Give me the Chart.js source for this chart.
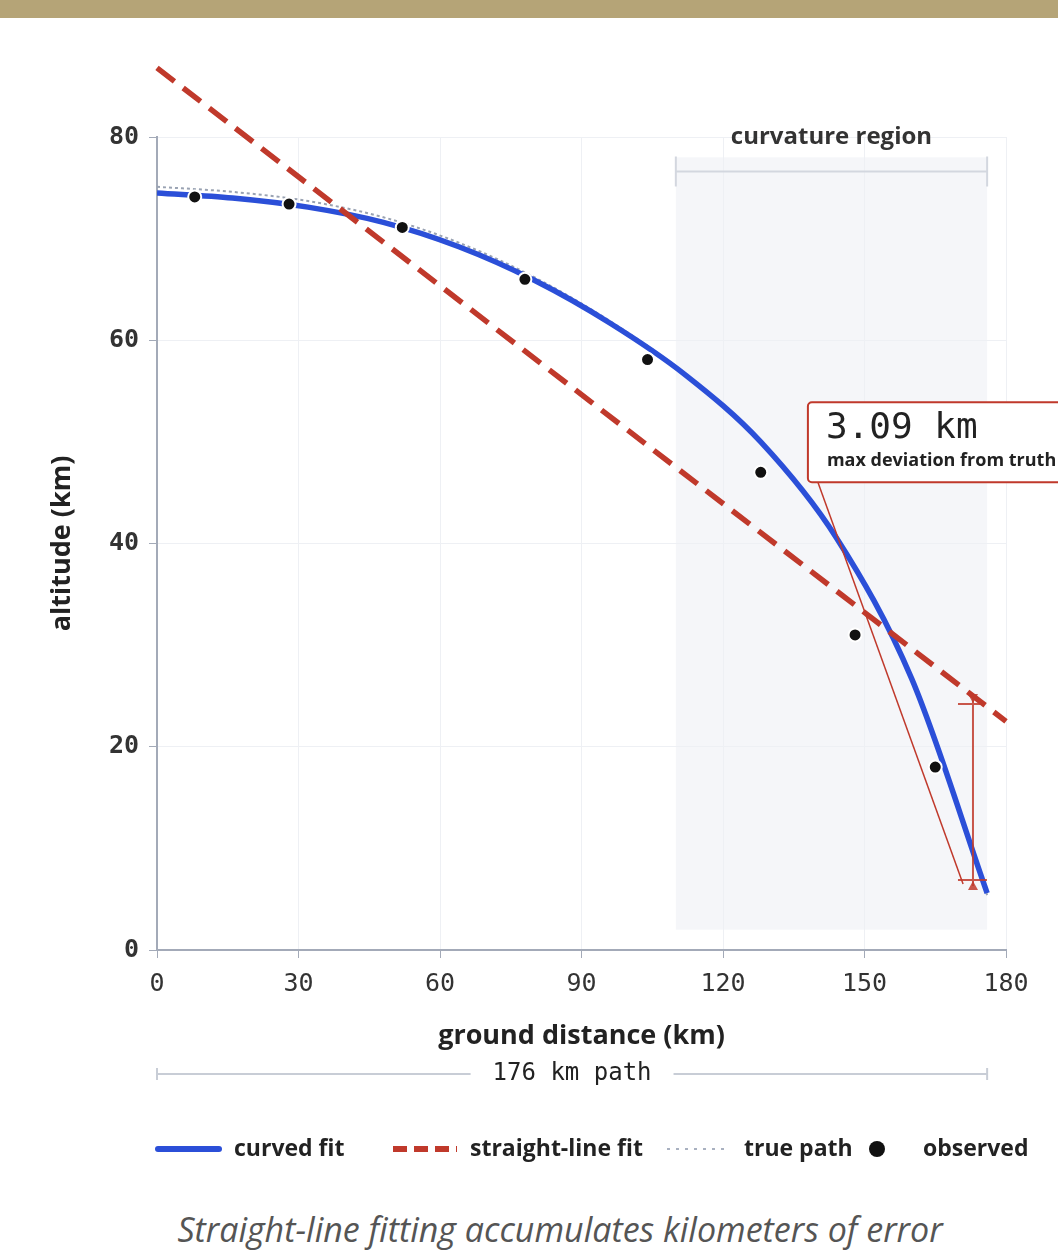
<!DOCTYPE html>
<html>
<head>
<meta charset="utf-8">
<script src="https://cdn.jsdelivr.net/npm/chart.js@4.4.1/dist/chart.umd.min.js"></script>
<style>
  body { margin: 0; background: #fff; width: 1058px; height: 1251px; position: relative; overflow: hidden; }
  #band { position: absolute; left: 0; top: 0; width: 1058px; height: 18px; background: #b5a477; z-index: 2; }
  #wrap { position: absolute; left: 0; top: 0; width: 1058px; height: 1200px; }
  #caption { position: absolute; top: 1205px; left: 0; width: 1120px; text-align: center; line-height: 48px;
    font-family: "Open Sans", sans-serif; font-style: italic; font-size: 34px; color: #555; }
</style>
</head>
<body>
<div id="band"></div>
<div id="wrap"><canvas id="grafico" width="1058" height="1200"></canvas></div>
<div id="caption">Straight-line fitting accumulates kilometers of error</div>
<script>
// valores
const curveX = [0, 16, 32, 48, 64, 80, 96, 112, 128, 144, 160, 176];
const curveY = [74.5, 74.0, 73.1, 71.6, 69.2, 65.9, 61.7, 56.6, 50.0, 40.6, 26.7, 5.6];
const truthY = [75.1, 74.6, 73.7, 72.1, 69.6, 66.2, 61.9, 56.7, 50.0, 40.6, 26.6, 5.4];
const fitX = [0, 180];
const fitY = [86.8, 22.5];
const obsX = [8, 28, 52, 78, 104, 128, 148, 165];
const obsY = [74.1, 73.4, 71.1, 66.0, 58.1, 47.0, 31.0, 18.0];
const xTicks = [0, 30, 60, 90, 120, 150, 180];
const yTicks = [0, 20, 40, 60, 80];

const regionX = [110, 176];
const regionY = [2, 78];
const errX = 173;
const errY = [24.2, 6.9];
const pathLen = 176;
const maxDev = "3.09 km";

const pares = (xs, ys) => xs.map((x, i) => ({ x, y: ys[i] }));

const SANS = '"Open Sans", "Noto Sans", sans-serif';
const MONO = '"DejaVu Sans Mono", monospace';
const RED = '#c0392b';
const BLUE = '#2b4fd8';
const AXIS = '#a3aab8';

const overlay = {
    id: 'overlay',
    beforeDraw(chart) {
        const { ctx, scales: { x, y } } = chart;
        ctx.save();
        ctx.fillStyle = '#f5f6f9';
        ctx.fillRect(x.getPixelForValue(regionX[0]), y.getPixelForValue(regionY[1]),
            x.getPixelForValue(regionX[1]) - x.getPixelForValue(regionX[0]),
            y.getPixelForValue(regionY[0]) - y.getPixelForValue(regionY[1]));
        ctx.restore();
    },
    afterDatasetsDraw(chart) {
        const { ctx, scales: { x, y } } = chart;
        ctx.save();
        // barra de erro
        const ex = x.getPixelForValue(errX);
        const e1 = y.getPixelForValue(errY[0]);
        const e2 = y.getPixelForValue(errY[1]);
        ctx.strokeStyle = 'rgba(192,57,43,0.85)';
        ctx.fillStyle = 'rgba(192,57,43,0.85)';
        ctx.lineWidth = 2;
        ctx.beginPath();
        ctx.moveTo(ex, e1 - 8); ctx.lineTo(ex, e2 + 6);
        ctx.moveTo(ex - 15, e1); ctx.lineTo(ex + 8, e1);
        ctx.moveTo(ex - 15, e2); ctx.lineTo(ex + 14, e2);
        ctx.stroke();
        ctx.beginPath();
        ctx.moveTo(ex - 5, e2 + 10); ctx.lineTo(ex + 5, e2 + 10); ctx.lineTo(ex, e2 + 1); ctx.closePath();
        ctx.fill();
        ctx.beginPath();
        ctx.moveTo(ex - 5, e1 - 10); ctx.lineTo(ex + 5, e1 - 10); ctx.lineTo(ex, e1 - 1); ctx.closePath();
        ctx.fill();

        // caixa de anotação
        const bx = x.getPixelForValue(138);
        const by = y.getPixelForValue(53.9);
        const bh = 80;
        ctx.strokeStyle = RED;
        ctx.lineWidth = 1.5;
        ctx.beginPath();
        ctx.moveTo(bx + 10, by + bh);
        ctx.lineTo(x.getPixelForValue(170.9), y.getPixelForValue(6.5));
        ctx.stroke();
        ctx.fillStyle = '#fff';
        ctx.lineWidth = 2;
        ctx.beginPath();
        ctx.roundRect(bx, by, 300, bh, 4);
        ctx.fill();
        ctx.stroke();
        ctx.fillStyle = '#222';
        ctx.textBaseline = 'middle';
        ctx.font = '36px ' + MONO;
        ctx.fillText(maxDev, bx + 18, by + 26);
        ctx.font = 'bold 18px ' + SANS;
        ctx.fillText('max deviation from truth', bx + 19, by + 59);
        ctx.restore();
    },
    afterDraw(chart) {
        const { ctx, scales: { x, y } } = chart;
        ctx.save();
        // região de curvatura
        const r0 = x.getPixelForValue(regionX[0]);
        const r1 = x.getPixelForValue(regionX[1]);
        const ry = y.getPixelForValue(76.6);
        ctx.strokeStyle = '#d3d7df';
        ctx.lineWidth = 2;
        ctx.beginPath();
        ctx.moveTo(r0, ry); ctx.lineTo(r1, ry);
        ctx.moveTo(r0, ry - 15); ctx.lineTo(r0, ry + 15);
        ctx.moveTo(r1, ry - 15); ctx.lineTo(r1, ry + 15);
        ctx.stroke();
        ctx.fillStyle = '#333';
        ctx.textAlign = 'center';
        ctx.textBaseline = 'middle';
        ctx.font = 'bold 24px ' + SANS;
        ctx.fillText('curvature region', (r0 + r1) / 2, y.getPixelForValue(80));

        // régua do caminho
        const p0 = x.getPixelForValue(0);
        const p1 = x.getPixelForValue(pathLen);
        const py = 1074;
        const mid = (p0 + p1) / 2;
        ctx.font = '24px ' + MONO;
        const half = ctx.measureText(pathLen + ' km path').width / 2 + 22;
        ctx.strokeStyle = '#c8cdd6';
        ctx.beginPath();
        ctx.moveTo(p0, py); ctx.lineTo(mid - half, py);
        ctx.moveTo(mid + half, py); ctx.lineTo(p1, py);
        ctx.moveTo(p0, py - 6); ctx.lineTo(p0, py + 6);
        ctx.moveTo(p1, py - 6); ctx.lineTo(p1, py + 6);
        ctx.stroke();
        ctx.fillStyle = '#222';
        ctx.fillText(pathLen + ' km path', mid, py);

        // legenda
        const ly = 1149;
        ctx.lineWidth = 6;
        ctx.lineCap = 'round';
        ctx.strokeStyle = BLUE;
        ctx.beginPath(); ctx.moveTo(158, ly); ctx.lineTo(219, ly); ctx.stroke();
        ctx.lineCap = 'butt';
        ctx.strokeStyle = RED;
        ctx.setLineDash([14, 7]);
        ctx.beginPath(); ctx.moveTo(393, ly); ctx.lineTo(457, ly); ctx.stroke();
        ctx.strokeStyle = '#a9b1c0';
        ctx.lineWidth = 2;
        ctx.setLineDash([3, 6]);
        ctx.beginPath(); ctx.moveTo(667, ly); ctx.lineTo(730, ly); ctx.stroke();
        ctx.setLineDash([]);
        ctx.fillStyle = '#111';
        ctx.beginPath(); ctx.arc(877, ly, 8, 0, Math.PI * 2); ctx.fill();
        ctx.fillStyle = '#222';
        ctx.textAlign = 'left';
        ctx.font = 'bold 23px ' + SANS;
        ctx.fillText('curved fit', 234, ly);
        ctx.fillText('straight-line fit', 470, ly);
        ctx.fillText('true path', 744, ly);
        ctx.fillText('observed', 923, ly);
        ctx.restore();
    }
};

new Chart(document.getElementById('grafico').getContext('2d'), {
    type: 'scatter',
    data: {
        datasets: [
            {
                label: 'observed',
                data: pares(obsX, obsY),
                pointRadius: 6.5,
                pointBackgroundColor: '#111',
                pointBorderColor: '#fff',
                pointBorderWidth: 2,
                order: 0
            },
            {
                label: 'straight-line fit',
                data: pares(fitX, fitY),
                showLine: true,
                borderColor: RED,
                borderWidth: 5.5,
                borderDash: [22, 11],
                pointRadius: 0,
                clip: false,
                order: 1
            },
            {
                label: 'curved fit',
                data: pares(curveX, curveY),
                showLine: true,
                borderColor: BLUE,
                borderWidth: 5.5,
                pointRadius: 0,
                cubicInterpolationMode: 'monotone',
                order: 2
            },
            {
                label: 'true path',
                data: pares(curveX, truthY),
                showLine: true,
                borderColor: '#9aa3b3',
                borderWidth: 2,
                borderDash: [3, 3],
                pointRadius: 0,
                cubicInterpolationMode: 'monotone',
                order: 3
            }
        ]
    },
    options: {
        responsive: false,
        animation: false,
        layout: { padding: { top: 137, right: 52, bottom: 140, left: 0 } },
        plugins: { legend: { display: false }, tooltip: { enabled: false } },
        scales: {
            x: {
                type: 'linear',
                min: 0, max: 180,
                afterFit: s => { s.height = 110; },
                afterBuildTicks: s => { s.ticks = xTicks.map(v => ({ value: v })); },
                grid: { color: '#eef0f4', tickColor: AXIS, tickLength: 8 },
                border: { color: AXIS, width: 2 },
                ticks: { color: '#333', padding: 11, font: { family: MONO, size: 25 } },
                title: { display: true, text: 'ground distance (km)', color: '#222',
                    padding: { top: 0, bottom: 7 }, font: { family: SANS, size: 27, weight: 'bold' } }
            },
            y: {
                min: 0, max: 80,
                afterFit: s => { s.width = 157; },
                afterBuildTicks: s => { s.ticks = yTicks.map(v => ({ value: v })); },
                grid: { color: '#eef0f4', tickColor: AXIS, tickLength: 8 },
                border: { color: AXIS, width: 2 },
                ticks: { color: '#333', padding: 10, font: { family: MONO, size: 25, weight: 'bold' } },
                title: { display: true, text: 'altitude (km)', color: '#222',
                    padding: { top: 46, bottom: 0 }, font: { family: SANS, size: 27, weight: 'bold' } }
            }
        }
    },
    plugins: [overlay]
});
</script>
</body>
</html>
